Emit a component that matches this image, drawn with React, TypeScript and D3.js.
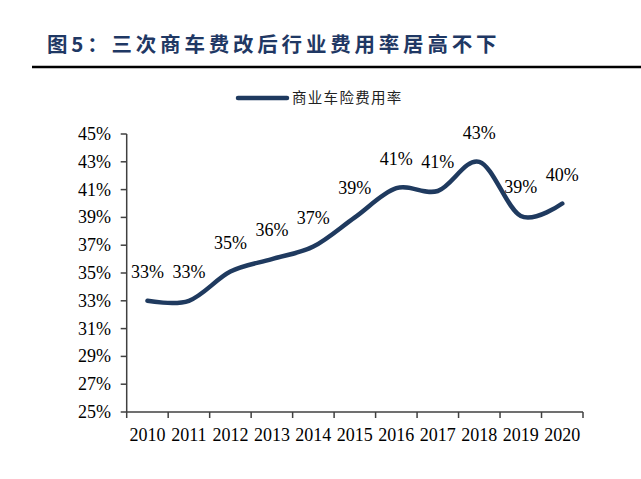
import React from "react";
import * as d3 from "d3";

const years = ["2010","2011","2012","2013","2014","2015","2016","2017","2018","2019","2020"];
const rates = [33.0, 33.0, 35.1, 36.0, 36.9, 39.0, 41.1, 40.9, 43.0, 39.1, 40.0];
const labels = ["33%","33%","35%","36%","37%","39%","41%","41%","43%","39%","40%"];
const yTicks = [25, 27, 29, 31, 33, 35, 37, 39, 41, 43, 45];
const seriesName = "商业车险费用率";
const titleText = "图5：三次商车费改后行业费用率居高不下";

const W = 641, H = 479;
const left = 126.7, right = 583, top = 134, bottom = 412;
const lineColor = "#1f3a5f";
const serif = "'Liberation Serif', 'Times New Roman', serif";
const cjk = "'Noto Sans CJK SC', sans-serif";

export default function App() {
  const x = d3.scaleBand<string>().domain(years).range([left, right]);
  const y = d3.scaleLinear().domain([25, 45]).range([bottom, top]);
  const cx = (yr: string) => (x(yr) as number) + x.bandwidth() / 2;
  const line = d3
    .line<number>()
    .x((_, i) => cx(years[i]))
    .y((d) => y(d))
    .curve(d3.curveCardinal.tension(0));
  const bounds = [...years.map((yr) => x(yr) as number), right];

  return (
    <svg width={W} height={H} style={{ position: "absolute", left: 0, top: 0, background: "#fff" }}>
      <rect width={W} height={H} fill="#fff" />
      <text x={47} y={52} fontFamily={cjk} fontWeight={700} fontSize={20.5} fill="#1f3864" letterSpacing={3.8}>
        {titleText}
      </text>
      <line x1={32} x2={641} y1={67} y2={67} stroke="#000" strokeWidth={2.5} />

      {/* legend */}
      <line x1={238} x2={287} y1={98} y2={98} stroke={lineColor} strokeWidth={4.5} strokeLinecap="round" />
      <text x={292} y={103} fontFamily={cjk} fontSize={14.5} fill="#222" letterSpacing={1.3}>
        {seriesName}
      </text>

      {/* y axis */}
      <line x1={left} x2={left} y1={top} y2={bottom} stroke="#404040" strokeWidth={1.5} />
      {yTicks.map((t) => (
        <g key={t}>
          <line x1={left - 6} x2={left} y1={y(t)} y2={y(t)} stroke="#404040" strokeWidth={1.5} />
          <text x={111} y={y(t) + 6} textAnchor="end" fontFamily={serif} fontSize={18} fill="#000">
            {t}%
          </text>
        </g>
      ))}

      {/* x axis */}
      <line x1={left} x2={right} y1={bottom} y2={bottom} stroke="#404040" strokeWidth={1.5} />
      {bounds.map((b, i) => (
        <line key={i} x1={b} x2={b} y1={bottom} y2={bottom + 6} stroke="#404040" strokeWidth={1.5} />
      ))}
      {years.map((yr) => (
        <text key={yr} x={cx(yr)} y={441} textAnchor="middle" fontFamily={serif} fontSize={18} fill="#000">
          {yr}
        </text>
      ))}

      <path d={line(rates) || ""} fill="none" stroke={lineColor} strokeWidth={4.5} strokeLinecap="round" />

      {rates.map((v, i) => (
        <text key={i} x={cx(years[i])} y={y(v) - 23} textAnchor="middle" fontFamily={serif} fontSize={18} fill="#000">
          {labels[i]}
        </text>
      ))}
    </svg>
  );
}
